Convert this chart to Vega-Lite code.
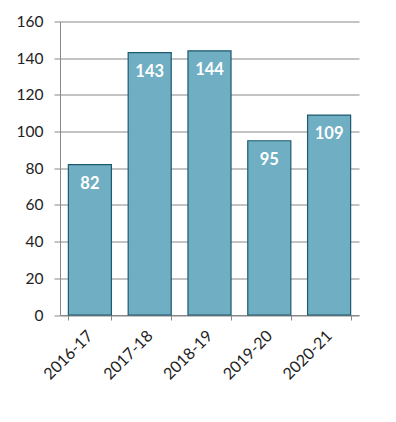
{
  "$schema": "https://vega.github.io/schema/vega-lite/v6.json",
  "autosize": {"type": "none"},
  "width": 299,
  "height": 293.5,
  "padding": {"left": 60, "top": 21.5, "right": 37, "bottom": 107},
  "background": "white",
  "data": {"values": [
    {"year": "2016-17", "value": 82},
    {"year": "2017-18", "value": 143},
    {"year": "2018-19", "value": 144},
    {"year": "2019-20", "value": 95},
    {"year": "2020-21", "value": 109}
  ]},
  "config": {
    "view": {"stroke": null},
    "font": "Lato"
  },
  "encoding": {
    "x": {
      "field": "year", "type": "nominal", "sort": null,
      "scale": {"paddingInner": 0.28, "paddingOuter": 0.14},
      "axis": {
        "title": null, "labelAngle": -45, "labelAlign": "right", "labelBaseline": "middle",
        "labelFontSize": 16, "labelColor": "#222", "labelPadding": 13,
        "domainColor": "#888", "tickColor": "#888", "tickSize": 5, "tickBand": "extent",
        "labelFont": "Lato"
      }
    },
    "y": {
      "field": "value", "type": "quantitative",
      "scale": {"domain": [0, 160], "nice": false},
      "axis": {
        "title": null, "values": [0, 20, 40, 60, 80, 100, 120, 140, 160],
        "labelFontSize": 15.5, "labelColor": "#222", "labelPadding": 11,
        "domainColor": "#888", "tickColor": "#888", "tickSize": 6,
        "gridColor": "#888", "gridWidth": 1, "labelFont": "Lato"
      }
    }
  },
  "layer": [
    {
      "mark": {"type": "bar", "color": "#6faec3", "stroke": "#1d5a6e", "strokeWidth": 1.2}
    },
    {
      "mark": {"type": "text", "color": "white", "fontWeight": "bold", "fontSize": 16.5, "baseline": "middle", "dy": 19, "font": "Lato"},
      "encoding": {"text": {"field": "value", "type": "quantitative"}}
    }
  ]
}
